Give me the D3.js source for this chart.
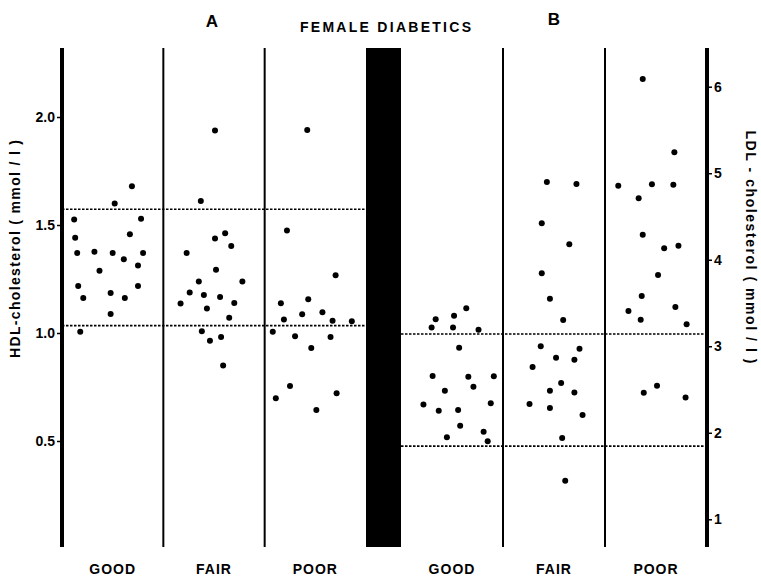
<!DOCTYPE html>
<html>
<head>
<meta charset="utf-8">
<script src="https://cdn.jsdelivr.net/npm/d3@7"></script>
<style>
  body { margin: 0; background: #fff; }
  svg text { font-family: "Liberation Sans", Arial, Helvetica, sans-serif; font-weight: bold; fill: #000; }
</style>
</head>
<body>
<div id="chart"></div>
<script>

// DATA
var categories = ["GOOD", "FAIR", "POOR"];
var hdlTicks = [0.5, 1.0, 1.5, 2.0];
var ldlTicks = [1, 2, 3, 4, 5, 6];
// normal range limits (dotted lines)
var hdlRefRange = [1.034, 1.573];
var ldlRefRange = [1.846, 3.141];

// [spread within strip (0-1), value mmol/l]
var hdlGood = [[0.69,1.679],[0.52,1.600],[0.12,1.526],[0.78,1.529],[0.13,1.441],[0.67,1.457],[0.15,1.370],[0.32,1.376],[0.50,1.370],[0.61,1.341],
  [0.80,1.370],[0.37,1.288],[0.75,1.312],[0.16,1.218],[0.21,1.162],[0.48,1.185],[0.62,1.162],[0.75,1.218],[0.48,1.088],[0.18,1.006]];
var hdlFair = [[0.51,1.938],[0.37,1.611],[0.51,1.437],[0.61,1.462],[0.67,1.403],[0.23,1.370],[0.52,1.293],[0.35,1.238],[0.78,1.238],[0.26,1.187],
  [0.40,1.176],[0.56,1.167],[0.17,1.136],[0.43,1.113],[0.70,1.139],[0.65,1.071],[0.38,1.008],[0.46,0.964],[0.57,0.981],[0.59,0.849]];
var hdlPoor = [[0.42,1.940],[0.22,1.474],[0.70,1.267],[0.16,1.138],[0.43,1.156],[0.37,1.087],[0.57,1.096],[0.19,1.062],[0.67,1.057],[0.86,1.054],
  [0.08,1.006],[0.30,0.985],[0.65,0.981],[0.46,0.931],[0.25,0.755],[0.11,0.698],[0.71,0.721],[0.51,0.644]];

var ldlGood = [[0.64,3.438],[0.34,3.311],[0.52,3.353],[0.30,3.218],[0.51,3.218],[0.76,3.191],[0.57,2.983],[0.31,2.655],[0.66,2.647],[0.91,2.652],
  [0.71,2.532],[0.43,2.486],[0.22,2.328],[0.37,2.254],[0.56,2.262],[0.88,2.340],[0.58,2.081],[0.45,1.947],[0.81,2.012],[0.85,1.901]];
var ldlFair = [[0.43,4.898],[0.72,4.875],[0.38,4.421],[0.65,4.178],[0.38,3.843],[0.46,3.549],[0.59,3.303],[0.37,2.999],[0.75,2.971],[0.52,2.867],
  [0.70,2.844],[0.29,2.760],[0.57,2.575],[0.46,2.486],[0.70,2.467],[0.26,2.332],[0.46,2.286],[0.78,2.205],[0.58,1.939],[0.61,1.445]];
var ldlPoor = [[0.37,6.089],[0.68,5.242],[0.13,4.855],[0.46,4.872],[0.67,4.867],[0.33,4.710],[0.37,4.289],[0.58,4.132],[0.72,4.162],[0.52,3.823],
  [0.36,3.580],[0.23,3.407],[0.69,3.453],[0.35,3.306],[0.80,3.253],[0.51,2.543],[0.38,2.462],[0.79,2.409]];

//////////////////////// D3 STUFF

var W = 761, H = 577;
var plotTop = 48, plotBottom = 547;

var svg = d3.select("#chart").append("svg")
  .attr("width", W)
  .attr("height", H);

svg.append("rect").attr("width", W).attr("height", H).attr("fill", "#fff");

var xA = d3.scaleBand().domain(categories).range([62, 366]);
var xB = d3.scaleBand().domain(categories).range([401, 707]);

var yHDL = d3.scaleLinear().domain([0.5, 2.0]).range([441, 117]);
var yLDL = d3.scaleLinear().domain([1, 6]).range([519.3, 86.7]);

// black separator bar
svg.append("rect")
  .attr("x", xA.range()[1])
  .attr("y", plotTop)
  .attr("width", xB.range()[0] - xA.range()[1])
  .attr("height", plotBottom - plotTop)
  .attr("fill", "#000");

// thin column dividers
var dividers = [xA("FAIR"), xA("POOR"), xB("FAIR"), xB("POOR")];
svg.selectAll(".divider")
  .data(dividers)
  .enter().append("line")
  .attr("class", "divider")
  .attr("x1", function(d) { return d; })
  .attr("x2", function(d) { return d; })
  .attr("y1", plotTop)
  .attr("y2", plotBottom)
  .attr("stroke", "#000")
  .attr("stroke-width", 2);

// thick axis lines
svg.append("line")
  .attr("x1", xA.range()[0]).attr("x2", xA.range()[0])
  .attr("y1", plotTop).attr("y2", plotBottom)
  .attr("stroke", "#000").attr("stroke-width", 4);
svg.append("line")
  .attr("x1", xB.range()[1]).attr("x2", xB.range()[1])
  .attr("y1", plotTop).attr("y2", plotBottom)
  .attr("stroke", "#000").attr("stroke-width", 4);

// axes
var axL = svg.append("g")
  .attr("transform", "translate(" + (xA.range()[0] - 1) + ",0)")
  .call(d3.axisLeft(yHDL).tickValues(hdlTicks).tickFormat(d3.format(".1f")).tickSize(4).tickPadding(2));
axL.select(".domain").remove();
axL.selectAll("line").attr("stroke-width", 1.5);
axL.selectAll("text").style("font-size", "14px");

var axR = svg.append("g")
  .attr("transform", "translate(" + (xB.range()[1] + 1) + ",0)")
  .call(d3.axisRight(yLDL).tickValues(ldlTicks).tickFormat(d3.format("d")).tickSize(4).tickPadding(2));
axR.select(".domain").remove();
axR.selectAll("line").attr("stroke-width", 1.5);
axR.selectAll("text").style("font-size", "14px");

// dotted reference lines
function refLines(vals, yScale, xScale) {
  svg.selectAll(null)
    .data(vals)
    .enter().append("line")
    .attr("x1", xScale.range()[0])
    .attr("x2", xScale.range()[1])
    .attr("y1", function(d) { return yScale(d); })
    .attr("y2", function(d) { return yScale(d); })
    .attr("stroke", "#000")
    .attr("stroke-width", 1.6)
    .attr("stroke-dasharray", "2.5,1.5");
}
refLines(hdlRefRange, yHDL, xA);
refLines(ldlRefRange, yLDL, xB);

// dots
function strip(data, cat, xScale, yScale) {
  svg.selectAll(null)
    .data(data)
    .enter().append("circle")
    .attr("cx", function(d) { return xScale(cat) + d[0] * xScale.bandwidth(); })
    .attr("cy", function(d) { return yScale(d[1]); })
    .attr("r", 3)
    .attr("fill", "#000");
}
strip(hdlGood, "GOOD", xA, yHDL);
strip(hdlFair, "FAIR", xA, yHDL);
strip(hdlPoor, "POOR", xA, yHDL);
strip(ldlGood, "GOOD", xB, yLDL);
strip(ldlFair, "FAIR", xB, yLDL);
strip(ldlPoor, "POOR", xB, yLDL);

// category labels
[xA, xB].forEach(function(xs) {
  svg.selectAll(null)
    .data(categories)
    .enter().append("text")
    .attr("x", function(d) { return xs(d) + xs.bandwidth() / 2; })
    .attr("y", 574)
    .attr("text-anchor", "middle")
    .style("font-size", "14px")
    .style("letter-spacing", "1px")
    .text(function(d) { return d; });
});

// titles
svg.append("text").attr("x", 212).attr("y", 27).attr("text-anchor", "middle")
  .style("font-size", "17px").text("A");
svg.append("text").attr("x", 554).attr("y", 25).attr("text-anchor", "middle")
  .style("font-size", "17px").text("B");
svg.append("text").attr("x", 300).attr("y", 32)
  .attr("textLength", 171).attr("lengthAdjust", "spacing")
  .style("font-size", "14px").text("FEMALE DIABETICS");

// axis titles
svg.append("text")
  .attr("transform", "translate(20,249) rotate(-90)")
  .attr("text-anchor", "middle")
  .attr("textLength", 218).attr("lengthAdjust", "spacing")
  .style("font-size", "14px")
  .text("HDL-cholesterol ( mmol / l )");
svg.append("text")
  .attr("transform", "translate(746,247) rotate(90)")
  .attr("text-anchor", "middle")
  .attr("textLength", 233).attr("lengthAdjust", "spacing")
  .style("font-size", "14px")
  .text("LDL - cholesterol  ( mmol / l )");

</script>
</body>
</html>
